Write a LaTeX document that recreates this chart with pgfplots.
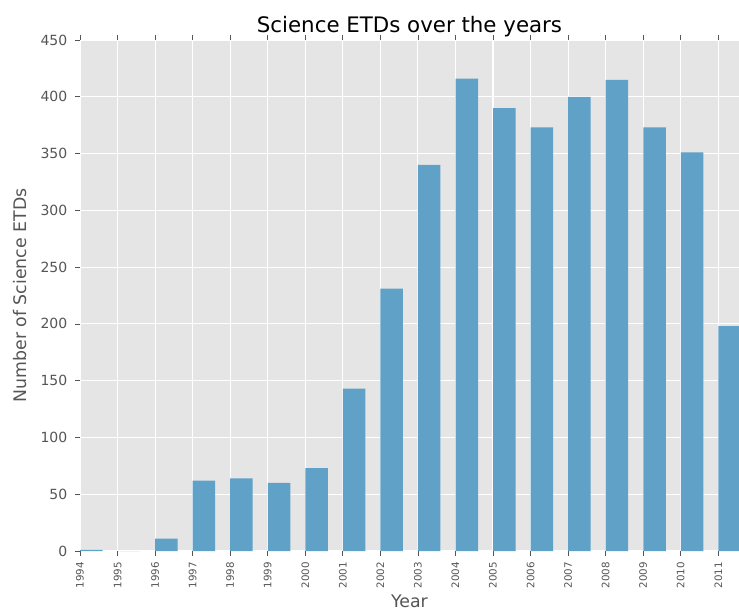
\documentclass[border=0pt]{standalone}
\usepackage{fontspec}
\setmainfont{DejaVu Sans}
\usepackage{pgfplots}
\pgfplotsset{compat=1.18}
\definecolor{bg}{HTML}{E5E5E5}
\definecolor{barc}{HTML}{60A1C7}
\definecolor{tickc}{HTML}{555555}
\begin{document}
\begin{tikzpicture}
\path[use as bounding box] (0pt,0pt) rectangle (554.25pt,459pt);
\begin{axis}[
  at={(60pt,45.75pt)}, anchor=south west,
  scale only axis, width=494.25pt, height=383.25pt,
  xmin=1994, xmax=2011.55, ymin=0, ymax=450,
  axis background/.style={fill=bg},
  axis line style={draw=none},
  grid=major, major grid style={white, line width=0.8pt},
  xtick={1994,...,2011}, ytick={0,50,...,450},
  tick align=outside, tick pos=both, major tick length=4pt,
  tick style={tickc, line width=0.5pt},
  /pgf/number format/assume math mode=true,
  x tick label style={/pgf/number format/1000 sep=, rotate=90, anchor=east, font=\fontsize{7.7}{9}\selectfont, text=tickc, yshift=0pt, xshift=-1pt},
  y tick label style={font=\fontsize{10.5}{12}\selectfont, text=tickc, xshift=-2pt},
  title={Science ETDs over the years},
  title style={font=\fontsize{16}{19}\selectfont, at={(axis description cs:0.5,1)}, anchor=base, yshift=0pt},
  xlabel={Year}, ylabel={Number of Science ETDs},
  xlabel style={font=\fontsize{13}{15}\selectfont, text=tickc, at={(axis description cs:0.5,-0.099)}, anchor=center},
  ylabel style={font=\fontsize{13}{15}\selectfont, text=tickc, at={(axis description cs:-0.091,0.5)}, anchor=center},
  ybar, bar width=0.6, bar shift=0.3,
]
\addplot[fill=barc, draw=none] coordinates {
(1994,1) (1995,0) (1996,11) (1997,62) (1998,64) (1999,60) (2000,73)
(2001,143) (2002,231) (2003,340) (2004,416) (2005,390) (2006,373)
(2007,400) (2008,415) (2009,373) (2010,351) (2011,198)
};
\end{axis}
\end{tikzpicture}
\end{document}
